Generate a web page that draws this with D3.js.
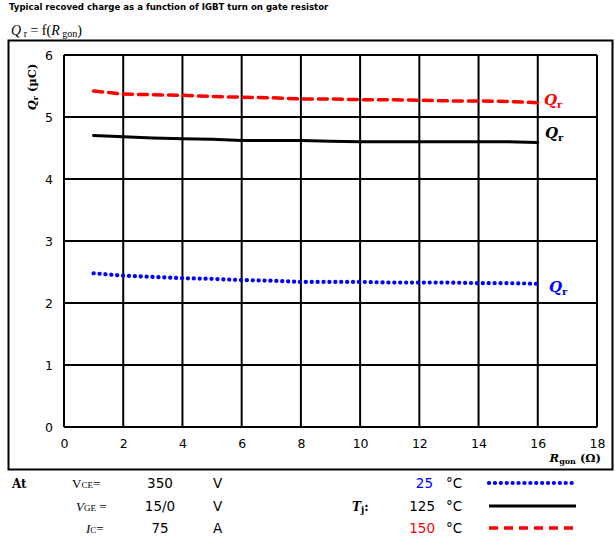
<!DOCTYPE html>
<html><head><meta charset="utf-8">
<script src="https://cdn.jsdelivr.net/npm/d3@7"></script>
<style>body{margin:0;background:#fff}svg{display:block}</style>
</head><body>
<script>
const xTicks = [0,2,4,6,8,10,12,14,16,18];
const yTicks = [0,1,2,3,4,5,6];
const rgon = [1,2,3,4,5,6,7,8,9,10,11,12,13,14,15,16];
const qr25  = [2.48,2.44,2.42,2.40,2.39,2.37,2.36,2.34,2.34,2.34,2.33,2.33,2.33,2.32,2.32,2.31];
const qr125 = [4.70,4.68,4.66,4.65,4.64,4.62,4.62,4.62,4.61,4.60,4.60,4.60,4.60,4.60,4.60,4.59];
const qr150 = [5.42,5.37,5.36,5.35,5.33,5.32,5.31,5.29,5.29,5.28,5.28,5.27,5.26,5.26,5.25,5.23];
const seriesNames = ["25","125","150"];
const seriesColors = ["#0000ff","#000000","#ff0000"];

const W=615,H=539;
const svg=d3.select("body").append("svg").attr("width",W).attr("height",H);
const x=d3.scaleLinear().domain([0,18]).range([64,597]);
const y=d3.scaleLinear().domain([0,6]).range([427,55]);
const sans="DejaVu Sans, Verdana, sans-serif";
const serif="DejaVu Serif, Liberation Serif, serif";

// title
svg.append("text").attr("x",9).attr("y",10).attr("font-family",sans).attr("font-weight","bold").attr("font-size",8.6).text("Typical recoved charge as a function of IGBT turn on gate resistor");
const f=svg.append("text").attr("x",11).attr("y",35).attr("font-family","Liberation Serif, serif").attr("font-size",14);
f.append("tspan").attr("font-style","italic").text("Q");
f.append("tspan").attr("font-size",10).attr("dy",2).text(" r");
f.append("tspan").attr("dy",-2).text(" = f(");
f.append("tspan").attr("font-style","italic").text("R");
f.append("tspan").attr("font-size",10).attr("dy",2).text(" gon");
f.append("tspan").attr("dy",-2).text(")");

// outer frame
svg.append("rect").attr("x",8.5).attr("y",40.5).attr("width",604).attr("height",429).attr("fill","none").attr("stroke","#000").attr("stroke-width",2);

// grid
const g=svg.append("g");
g.selectAll(".vx").data(xTicks).enter().append("line").attr("x1",d=>x(d)).attr("x2",d=>x(d)).attr("y1",y(6)).attr("y2",y(0)).attr("stroke","#000").attr("stroke-width",2);
g.selectAll(".hy").data(yTicks).enter().append("line").attr("y1",d=>y(d)).attr("y2",d=>y(d)).attr("x1",x(0)).attr("x2",x(18)).attr("stroke","#000").attr("stroke-width",2);

// axes labels via d3 axes (no domain/ticks)
const xa=svg.append("g").attr("transform",`translate(0,${y(0)})`).call(d3.axisBottom(x).tickValues(xTicks).tickFormat(d3.format("d")).tickSize(0).tickPadding(12));
xa.select(".domain").remove();
xa.selectAll("text").attr("font-family",sans).attr("font-size",12.5).attr("fill","#000");
const ya=svg.append("g").attr("transform",`translate(${x(0)},0)`).call(d3.axisLeft(y).tickValues(yTicks).tickFormat(d3.format("d")).tickSize(0).tickPadding(11));
ya.select(".domain").remove();
ya.selectAll("text").attr("font-family",sans).attr("font-size",12.5).attr("fill","#000");

// axis titles
const yt=svg.append("text").attr("transform","translate(36,87) rotate(-90)").attr("text-anchor","middle").attr("font-family",serif).attr("font-weight","bold").attr("font-size",11.5);
yt.append("tspan").attr("font-style","italic").text("Q");
yt.append("tspan").attr("font-size",8).attr("dy",2).text("r");
yt.append("tspan").attr("dy",-2).text(" (µC)");
const xt=svg.append("text").attr("x",601).attr("y",462).attr("text-anchor","end").attr("font-family",serif).attr("font-weight","bold").attr("font-size",11.5);
xt.append("tspan").attr("font-style","italic").text("R");
xt.append("tspan").attr("font-size",8).attr("dy",2).text("gon");
xt.append("tspan").attr("dy",-2).text(" (Ω)");

// series
const line=d3.line().x((d,i)=>x(rgon[i])).y(d=>y(d)).curve(d3.curveLinear);
const data=[qr25,qr125,qr150];
const dashes=["0.1 5.8","","9 6"];
const widths=[4.2,3,3.5];
data.forEach((s,k)=>{
  svg.append("path").attr("d",line(s)).attr("fill","none").attr("stroke",seriesColors[k]).attr("stroke-width",widths[k]).attr("stroke-dasharray",dashes[k]||null).attr("stroke-linecap","round");
});
// Qr labels near line ends
const lblPos=[[549,292,0],[545,138,1],[544,105,2]];
lblPos.forEach(([lx,ly,k])=>{
  const t=svg.append("text").attr("x",lx).attr("y",ly).attr("font-family",serif).attr("font-weight","bold").attr("font-style","italic").attr("font-size",15).attr("fill",seriesColors[k]);
  t.append("tspan").text("Q");
  t.append("tspan").attr("font-size",10).attr("font-style","normal").attr("dy",3).text("r");
});

// condition table
const rows=[488,511,533];
svg.append("text").attr("x",12).attr("y",rows[0]).attr("font-family",serif).attr("font-weight","bold").attr("font-size",12).text("At");
const conds=[["V","CE","=", "350","V",false],["V","GE"," =","15/0","V",true],["I","C","=","75","A",true]];
const condX=[72,76,86];
conds.forEach((c,i)=>{
  const t=svg.append("text").attr("x",condX[i]).attr("y",rows[i]).attr("font-family","Liberation Serif, serif").attr("font-size",13);
  t.append("tspan").attr("font-style",c[5]?"italic":"normal").text(c[0]);
  t.append("tspan").attr("font-size",9).text(c[1]);
  t.append("tspan").text(c[2]);
  svg.append("text").attr("x",160).attr("y",rows[i]).attr("text-anchor","middle").attr("font-family",sans).attr("font-size",13.5).text(c[3]);
  svg.append("text").attr("x",213).attr("y",rows[i]).attr("font-family",sans).attr("font-size",13.5).text(c[4]);
});
const tj=svg.append("text").attr("x",352).attr("y",rows[1]).attr("font-family",serif).attr("font-weight","bold").attr("font-style","italic").attr("font-size",12);
tj.append("tspan").text("T");
tj.append("tspan").attr("font-size",9).attr("font-style","normal").attr("dy",2).text("j");
tj.append("tspan").attr("dy",-2).attr("font-style","normal").text(":");
seriesNames.forEach((n,k)=>{
  svg.append("text").attr("x",k===0?433:435).attr("y",rows[k]).attr("text-anchor","end").attr("font-family",sans).attr("font-size",13.5).attr("fill",k===1?"#000":seriesColors[k]).text(n);
  svg.append("text").attr("x",446).attr("y",rows[k]).attr("font-family",sans).attr("font-size",13.5).text("°C");
  svg.append("line").attr("x1",489).attr("x2",576).attr("y1",rows[k]-5).attr("y2",rows[k]-5).attr("stroke",seriesColors[k]).attr("stroke-width",widths[k]).attr("stroke-dasharray",dashes[k]||null).attr("stroke-linecap",k===0?"round":"butt");
});
</script>
</body></html>
